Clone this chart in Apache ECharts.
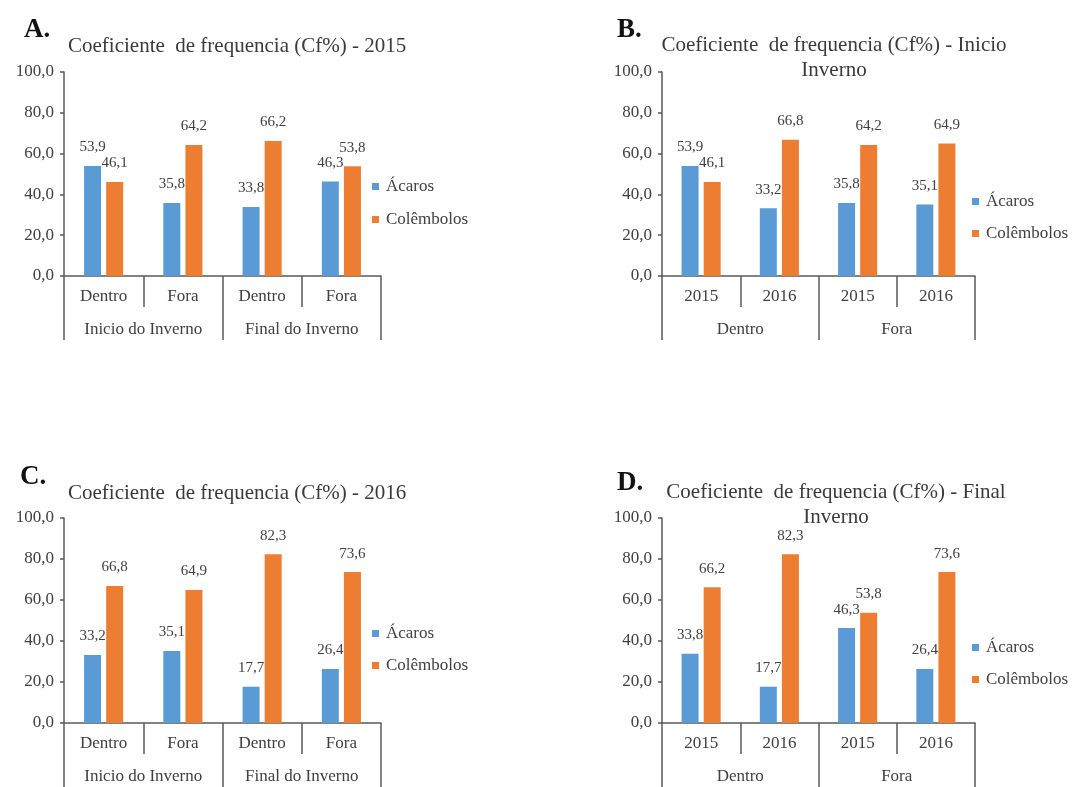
<!DOCTYPE html>
<html>
<head>
<meta charset="utf-8">
<script src="https://cdn.jsdelivr.net/npm/echarts@6/dist/echarts.min.js"></script>
<style>
  html, body { margin: 0; padding: 0; background: #ffffff; }
  #chart { width: 1075px; height: 787px; }
</style>
</head>
<body>
<div id="chart"></div>
<script>
// ---- data ----
const seriesNames = ['Ácaros', 'Colêmbolos'];

const seasonCats = ['Dentro', 'Fora', 'Dentro', 'Fora'];
const seasonGroups = ['Inicio do Inverno', 'Final do Inverno'];
const yearCats = ['2015', '2016', '2015', '2016'];
const placeGroups = ['Dentro', 'Fora'];

// A: 2015, by season and place
const acaros2015 = [53.9, 35.8, 33.8, 46.3];
const colembolos2015 = [46.1, 64.2, 66.2, 53.8];
// B: start of winter, by place and year
const acarosInicio = [53.9, 33.2, 35.8, 35.1];
const colembolosInicio = [46.1, 66.8, 64.2, 64.9];
// C: 2016, by season and place
const acaros2016 = [33.2, 35.1, 17.7, 26.4];
const colembolos2016 = [66.8, 64.9, 82.3, 73.6];
// D: end of winter, by place and year
const acarosFinal = [33.8, 17.7, 46.3, 26.4];
const colembolosFinal = [66.2, 82.3, 53.8, 73.6];

const yMin = 0, yMax = 100, yStep = 20;

// ---- styling ----
const FONT = '"Liberation Serif", "Times New Roman", serif';
const TEXT = '#404040';
const AXIS = '#5a5a5a';
const BLUE = '#5b9bd5';
const ORANGE = '#ed7d31';

const fmt = v => Number(v).toFixed(1).replace('.', ',');

const panels = [
  { letter: 'A.', letterPos: [24, 30], title: 'Coeficiente  de frequencia (Cf%) - 2015', titleLeft: 68, titleTop: 34, titleAlign: 'left',
    cats: seasonCats, groups: seasonGroups, acaros: acaros2015, col: colembolos2015,
    grid: { left: 64, top: 72, width: 317, height: 204 }, legend: { left: 372, top: 178, gap: 16 } },
  { letter: 'B.', letterPos: [617, 30], title: 'Coeficiente  de frequencia (Cf%) - Inicio\nInverno', titleLeft: 834, titleTop: 33, titleAlign: 'center',
    cats: yearCats, groups: placeGroups, acaros: acarosInicio, col: colembolosInicio,
    grid: { left: 662, top: 72, width: 313, height: 204 }, legend: { left: 972, top: 193, gap: 15 } },
  { letter: 'C.', letterPos: [20, 477], title: 'Coeficiente  de frequencia (Cf%) - 2016', titleLeft: 68, titleTop: 481, titleAlign: 'left',
    cats: seasonCats, groups: seasonGroups, acaros: acaros2016, col: colembolos2016,
    grid: { left: 64, top: 518, width: 317, height: 205 }, legend: { left: 372, top: 625, gap: 15 } },
  { letter: 'D.', letterPos: [617, 483], title: 'Coeficiente  de frequencia (Cf%) - Final\nInverno', titleLeft: 836, titleTop: 480, titleAlign: 'center',
    cats: yearCats, groups: placeGroups, acaros: acarosFinal, col: colembolosFinal,
    grid: { left: 662, top: 518, width: 313, height: 205 }, legend: { left: 972, top: 639, gap: 15 } }
];

const option = {
  backgroundColor: '#ffffff',
  animation: false,
  title: [], grid: [], xAxis: [], yAxis: [], legend: [], series: [], graphic: []
};

panels.forEach((p, i) => {
  option.title.push({
    text: p.title,
    left: p.titleLeft, top: p.titleTop,
    textAlign: p.titleAlign,
    padding: 0,
    textStyle: { fontFamily: FONT, fontSize: 21, fontWeight: 'normal', color: '#3a3a3a', lineHeight: 25 }
  });
  option.graphic.push({
    type: 'text', x: p.letterPos[0], y: p.letterPos[1],
    style: { text: p.letter, font: 'bold 27px ' + FONT, fill: '#111', textVerticalAlign: 'middle' }
  });
  option.grid.push(Object.assign({ containLabel: false, outerBoundsMode: 'none' }, p.grid));

  // lower category row (Dentro/Fora or years)
  option.xAxis.push({
    type: 'category', gridIndex: i, data: p.cats, position: 'bottom',
    axisLine: { show: true, lineStyle: { color: AXIS, width: 1.5 } },
    axisTick: { show: true, interval: 0, length: 31, alignWithLabel: false, lineStyle: { color: AXIS, width: 1.5 } },
    axisLabel: { interval: 0, margin: 12, fontFamily: FONT, fontSize: 17, color: TEXT }
  });
  // outer group row
  option.xAxis.push({
    type: 'category', gridIndex: i, data: p.groups, position: 'bottom', offset: 31,
    axisLine: { show: false },
    axisTick: { show: true, interval: 0, length: 33, lineStyle: { color: AXIS, width: 1.5 } },
    axisLabel: { interval: 0, margin: 14, fontFamily: FONT, fontSize: 17, color: TEXT }
  });
  option.yAxis.push({
    type: 'value', gridIndex: i, min: yMin, max: yMax, interval: yStep,
    splitLine: { show: false },
    axisLine: { show: true, lineStyle: { color: AXIS, width: 1.5 } },
    axisTick: { show: true, length: 4, lineStyle: { color: AXIS, width: 1.5 } },
    axisLabel: { margin: 10, fontFamily: FONT, fontSize: 17, color: TEXT, formatter: fmt }
  });
  option.legend.push({
    data: seriesNames, orient: 'vertical',
    left: p.legend.left, top: p.legend.top, itemGap: p.legend.gap,
    itemWidth: 7, itemHeight: 7, icon: 'rect', padding: 0,
    textStyle: { fontFamily: FONT, fontSize: 17, color: TEXT, lineHeight: 17, padding: [0, 0, 0, 2] }
  });
  const label = {
    show: true, position: 'top', distance: 11,
    fontFamily: FONT, fontSize: 15, color: TEXT,
    formatter: d => fmt(d.value)
  };
  option.series.push({
    name: seriesNames[0], type: 'bar', xAxisIndex: 2 * i, yAxisIndex: i,
    data: p.acaros, barWidth: 17, barGap: '30%',
    itemStyle: { color: BLUE }, label
  });
  option.series.push({
    name: seriesNames[1], type: 'bar', xAxisIndex: 2 * i, yAxisIndex: i,
    data: p.col, barWidth: 17, barGap: '30%',
    itemStyle: { color: ORANGE }, label
  });
});

const chart = echarts.init(document.getElementById('chart'), null, { renderer: 'canvas' });
chart.setOption(option);
</script>
</body>
</html>
